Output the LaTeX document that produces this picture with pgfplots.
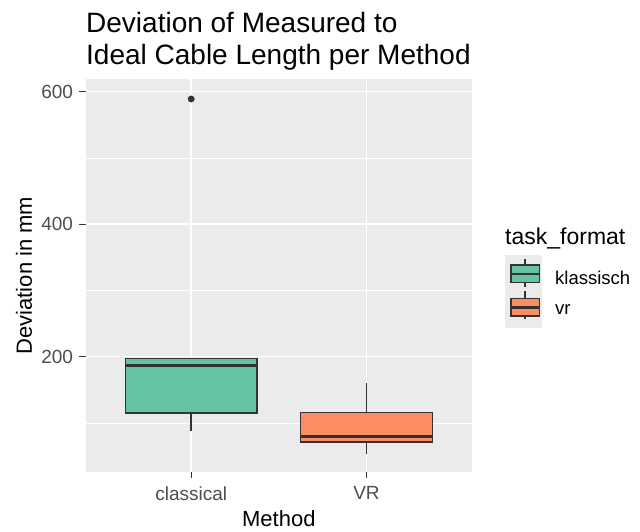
\documentclass[border=0pt]{standalone}
\usepackage{pgfplots}
\pgfplotsset{compat=1.18}
\usepackage{fontspec}
\setmainfont{Liberation Sans}
\definecolor{bggray}{HTML}{EBEBEB}
\definecolor{gthirty}{HTML}{4D4D4D}
\definecolor{gtwenty}{HTML}{333333}
\definecolor{setgreen}{HTML}{66C2A5}
\definecolor{setorange}{HTML}{FC8D62}
\begin{document}
\begin{tikzpicture}
\path[use as bounding box] (0pt,0pt) rectangle (640pt,531pt);
\begin{axis}[
  at={(86pt,59.3pt)}, anchor=south west,
  scale only axis, width=385.7pt, height=392.4pt,
  xmin=0.4, xmax=2.6, ymin=26.4, ymax=618.7,
  xtick={1,2}, xticklabels={classical,VR},
  ytick={200,400,600}, minor ytick={100,300,500},
  grid=both,
  major grid style={white, line width=1.4pt},
  minor grid style={white, line width=0.7pt},
  axis background/.style={fill=bggray},
  axis line style={draw=none},
  tick align=outside,
  major tick length=6.5pt,
  tick style={gtwenty, line width=1.2pt},
  minor tick style={draw=none},
  xtick pos=bottom, ytick pos=left,
  /pgf/number format/assume math mode=true,
  ticklabel style={font=\fontsize{19}{19}\selectfont, text=gthirty},
  xticklabel style={yshift=-5pt},
  yticklabel style={xshift=-3pt},
  xlabel={Method}, ylabel={Deviation in mm},
  label style={font=\fontsize{22}{22}\selectfont, text=black},
  xlabel style={at={(axis description cs:0.5,-0.1385)}, anchor=base, inner sep=0pt},
  ylabel style={at={(axis description cs:-0.1607,0.5)}, anchor=center},
  clip=false,
]
% classical: whiskers
\addplot[gtwenty, line width=1.4pt] coordinates {(1,88.3) (1,115)};
% classical: box
\addplot[draw=gtwenty, fill=setgreen, line width=1.4pt] coordinates {(0.625,115) (1.375,115) (1.375,197.6) (0.625,197.6)} -- cycle;
% classical: median
\addplot[black!80, line width=2.8pt] coordinates {(0.625,186.4) (1.375,186.4)};
% classical: outlier
\addplot[only marks, mark=*, mark size=3.2pt, gtwenty] coordinates {(1,589)};
% VR: whiskers
\addplot[gtwenty, line width=1.4pt] coordinates {(2,53.1) (2,71.2)};
\addplot[gtwenty, line width=1.4pt] coordinates {(2,115.5) (2,159.8)};
% VR: box
\addplot[draw=gtwenty, fill=setorange, line width=1.4pt] coordinates {(1.625,71.2) (2.375,71.2) (2.375,115.5) (1.625,115.5)} -- cycle;
% VR: median
\addplot[black!80, line width=2.8pt] coordinates {(1.625,79.2) (2.375,79.2)};
\end{axis}
% title
\node[anchor=base west, inner sep=0pt, font=\fontsize{28}{28}\selectfont] at (86pt,498pt) {Deviation of Measured to};
\node[anchor=base west, inner sep=0pt, font=\fontsize{28}{28}\selectfont] at (86pt,466pt) {Ideal Cable Length per Method};
% legend
\node[anchor=west, inner sep=0pt, font=\fontsize{23}{23}\selectfont] at (505pt,292.7pt) {task\_format};
\fill[bggray] (505pt,239.4pt) rectangle (541.7pt,276pt);
\fill[bggray] (505pt,202.7pt) rectangle (541.7pt,239.4pt);
\draw[gtwenty, line width=1.4pt] (525pt,243.7pt) -- (525pt,271.7pt);
\draw[gtwenty, line width=1.4pt, fill=setgreen] (511pt,248.3pt) rectangle (539.3pt,266pt);
\draw[black!80, line width=2.8pt] (511pt,257.1pt) -- (539.3pt,257.1pt);
\draw[gtwenty, line width=1.4pt] (525pt,212pt) -- (525pt,240pt);
\draw[gtwenty, line width=1.4pt, fill=setorange] (511pt,215pt) rectangle (539.3pt,232.7pt);
\draw[black!80, line width=2.8pt] (511pt,223.8pt) -- (539.3pt,223.8pt);
\node[anchor=west, inner sep=0pt, font=\fontsize{18.5}{18.5}\selectfont] at (555pt,253.3pt) {klassisch};
\node[anchor=west, inner sep=0pt, font=\fontsize{18.5}{18.5}\selectfont] at (555pt,221pt) {vr};
\end{tikzpicture}
\end{document}
